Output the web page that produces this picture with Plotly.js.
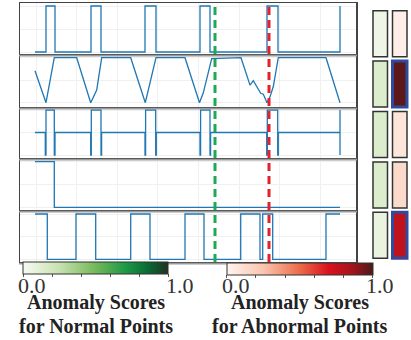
<!DOCTYPE html>
<html>
<head>
<meta charset="utf-8">
<script src="https://cdn.plot.ly/plotly-3.0.1.min.js"></script>
<style>html,body{margin:0;padding:0;background:#fff;}#chart{width:411px;height:340px;}</style>
</head>
<body>
<div id="chart"></div>
<script>
// ---------------- data ----------------
// time index of each series sample (x) and normalised value (y), one pair per panel
const p1x = [0,11,11,20,20,56,56,66,66,110,110,121,121,165,165,175,175,232,232,243,243,305,305];
const p1y = [0,0,1,1,0,0,1,1,0,0,1,1,0,0,1,1,0,0,1,1,0,0,1];

const p2x = [0,11,19.3,41.7,55.7,61.7,66.7,95.7,110.3,121,150,164.5,168.3,173.3,176.7,206,215,218.3,225.7,228.3,232,235,238.3,243.3,291,305];
const p2y = [0.71,0,1,1,0,0.28,1,1,0,1,1,0,0.22,0.69,0.98,1,0.39,0.49,0.21,0.19,0,0.13,0.36,1,1,0];

const p3x = [0,
  10.3,10.3,11,11,19.3,19.3,20,20,
  55.7,55.7,56.3,56.3,66,66,66.6,66.6,
  110,110,110.6,110.6,120.7,120.7,121.3,121.3,
  165,165,165.6,165.6,175,175,175.6,175.6,
  231.7,231.7,232.3,232.3,242.7,242.7,243.3,243.3,
  305,305,305];
const p3y = [0.5,
  0.5,0,0,1,1,0,0,0.5,
  0.5,0,0,1,1,0,0,0.5,
  0.5,0,0,1,1,0,0,0.5,
  0.5,0,0,1,1,0,0,0.5,
  0.5,0,0,1,1,0,0,0.5,
  0.5,1,0];

const p4x = [0,19.3,19.3,305];
const p4y = [1,1,0,0];

const p5x = [0,12.3,12.3,41,41,60.7,60.7,95.7,95.7,115,115,150,150,169,169,205.7,205.7,225,225,227.7,227.7,237.7,237.7,291,291,305];
const p5y = [1,1,0,0,1,1,0,0,1,1,0,0,1,1,0,0,1,1,0,0,1,1,0,0,1,1];

// marked time points
const normalPoint = 180;
const abnormalPoint = 234;

// anomaly scores per series (rows) for the two points
const normalScores   = [0.04, 0.14, 0.14, 0.14, 0.07];
const abnormalScores = [0.03, 0.97, 0.08, 0.14, 0.78];

// colour bar ticks and labels
const cbTickVals = [0, 0.2, 0.4, 0.6, 0.8, 1];
const cbEndLabels = ['0.0', '1.0'];

// ---------------- layout helpers (pixel geometry) ----------------
const W = 411, H = 340;
const fx = p => p / W;
const fy = p => 1 - p / H;

const seriesX = [p1x, p2x, p3x, p4x, p5x];
const seriesY = [p1y, p2y, p3y, p4y, p5y];
const panels = [
  {top: 3,     bot: 54,  v1: 6,     v0: 52},
  {top: 56,    bot: 107, v1: 57.7,  v0: 102.7},
  {top: 108.5, bot: 158, v1: 110,   v0: 155},
  {top: 160,   bot: 210, v1: 161.7, v0: 207.3},
  {top: 212,   bot: 262, v1: 214,   v0: 259.3}
];
const plotL = 20, plotR = 356;
const xRange = [-15, 321];

const greenScale = [[0,'#f7faf2'],[0.25,'#c7e2b0'],[0.5,'#74b85a'],[0.7,'#1f9b48'],[0.85,'#0a6e35'],[1,'#1e3322']];
const redScale   = [[0,'#fff4ef'],[0.25,'#f9c5ae'],[0.5,'#ec6a4a'],[0.7,'#d9101e'],[0.85,'#a8141c'],[1,'#4a1a1a']];

const traces = [];
const layout = {
  width: W, height: H,
  margin: {l: 0, r: 0, t: 0, b: 0, pad: 0},
  paper_bgcolor: '#ffffff', plot_bgcolor: '#ffffff',
  showlegend: false,
  font: {family: 'Liberation Serif', color: '#333'},
  shapes: [], annotations: []
};

for (let i = 0; i < 5; i++) {
  const n = i + 1;
  const sfx = n === 1 ? '' : String(n);
  traces.push({
    type: 'scatter', mode: 'lines',
    x: seriesX[i], y: seriesY[i],
    xaxis: 'x' + sfx, yaxis: 'y' + sfx,
    line: {color: '#1f77b4', width: 1.3},
    hoverinfo: 'skip'
  });
  const p = panels[i];
  const s = p.v0 - p.v1;
  layout['xaxis' + sfx] = {
    domain: [fx(plotL), fx(plotR)], range: xRange, anchor: 'y' + sfx,
    showgrid: true, gridcolor: '#f0f0f0', gridwidth: 1, tick0: 1, dtick: 40.6,
    showticklabels: false, ticks: '', zeroline: false,
    showline: true, mirror: true, linecolor: '#444', linewidth: 1.5
  };
  layout['yaxis' + sfx] = {
    domain: [fy(p.bot), fy(p.top)],
    range: [-(p.bot - p.v0) / s, 1 + (p.v1 - p.top) / s], anchor: 'x' + sfx,
    showgrid: true, gridcolor: '#f0f0f0', gridwidth: 1, tick0: 0, dtick: 0.5,
    showticklabels: false, ticks: '', zeroline: false,
    showline: true, mirror: true, linecolor: '#444', linewidth: 1.5
  };
  // grey shadow band under each panel
  layout.shapes.push({
    type: 'line', xref: 'paper', yref: 'paper',
    x0: fx(plotL - 1), x1: fx(plotR + 1), y0: fy(p.bot + 1.6), y1: fy(p.bot + 1.6),
    line: {color: '#9a9a9a', width: 1.6}
  });
}

// vertical dashed markers
layout.shapes.push({
  type: 'line', xref: 'x', yref: 'paper', x0: normalPoint, x1: normalPoint,
  y0: fy(262), y1: fy(4), line: {color: '#1fa957', width: 3, dash: '8px,5px'}
});
layout.shapes.push({
  type: 'line', xref: 'x', yref: 'paper', x0: abnormalPoint, x1: abnormalPoint,
  y0: fy(262), y1: fy(4), line: {color: '#e2222c', width: 3, dash: '8px,5px'}
});

// ---------------- score cells (heatmaps) ----------------
const cellL = 370.5, cellR = 409.5, cellT = 8.5, cellB = 260.5;
const xgap = 5, ygap = 4.4;
const rows = normalScores.map((_, k) => k);
layout.xaxis6 = {domain: [fx(cellL), fx(cellR)], range: [-0.5, 1.5], anchor: 'y6', visible: false, fixedrange: true};
layout.yaxis6 = {domain: [fy(cellB), fy(cellT)], range: [normalScores.length - 0.5, -0.5], anchor: 'x6', visible: false, fixedrange: true};

function cb(centerPx, topPx, lenPx) {
  return {
    orientation: 'h', lenmode: 'pixels', len: lenPx, thicknessmode: 'pixels', thickness: 12,
    x: fx(centerPx), xanchor: 'center', y: fy(topPx), yanchor: 'top',
    xpad: 0, ypad: 0, outlinewidth: 1, outlinecolor: '#333',
    tickmode: 'array', tickvals: cbTickVals, showticklabels: false,
    ticks: 'outside', ticklen: 3, tickwidth: 1, tickcolor: '#555'
  };
}

traces.push({
  type: 'heatmap', x: [0], y: rows, z: normalScores.map(v => [v]),
  xaxis: 'x6', yaxis: 'y6', zmin: 0, zmax: 1, colorscale: greenScale,
  xgap: xgap, ygap: ygap, hoverinfo: 'skip',
  colorbar: cb(95.5, 262.3, 145)
});
traces.push({
  type: 'heatmap', x: [1], y: rows, z: abnormalScores.map(v => [v]),
  xaxis: 'x6', yaxis: 'y6', zmin: 0, zmax: 1, colorscale: redScale,
  xgap: xgap, ygap: ygap, hoverinfo: 'skip',
  colorbar: cb(299.7, 263.3, 146)
});

// cell outlines
const gx = (xgap / 2) / ((cellR - cellL) / 2);
const gy = (ygap / 2) / ((cellB - cellT) / normalScores.length);
[normalScores, abnormalScores].forEach((arr, col) => {
  arr.forEach((v, r) => {
    const hi = col === 1 && v > 0.5;
    layout.shapes.push({
      type: 'rect', xref: 'x6', yref: 'y6',
      x0: col - 0.5 + gx, x1: col + 0.5 - gx,
      y0: r - 0.5 + gy, y1: r + 0.5 - gy,
      line: {color: hi ? '#2f4ba0' : '#333', width: hi ? 3 : 1.5}
    });
  });
});

// ---------------- colour bar labels & captions ----------------
function txt(text, cx, cy, size, bold, color) {
  layout.annotations.push({
    xref: 'paper', yref: 'paper', x: fx(cx), y: fy(cy), xanchor: 'center', yanchor: 'middle',
    showarrow: false, text: bold ? '<b>' + text + '</b>' : text,
    font: {family: 'Liberation Serif', size: size, color: color}
  });
}
// end labels of each colour bar (slightly right of the bar ends, as in the figure)
txt(cbEndLabels[0], 32, 285, 22, false, '#333');
txt(cbEndLabels[1], 179.5, 285, 22, false, '#333');
txt(cbEndLabels[0], 236, 285.5, 22, false, '#333');
txt(cbEndLabels[1], 380, 285.5, 22, false, '#333');

txt('Anomaly Scores', 95.5, 302, 20, true, '#222');
txt('for Normal Points', 95.5, 325.5, 20, true, '#222');
txt('Anomaly Scores', 299.5, 302, 20, true, '#222');
txt('for Abnormal Points', 299.5, 325.5, 20, true, '#222');

Plotly.newPlot('chart', traces, layout, {displayModeBar: false, staticPlot: true});
</script>
</body>
</html>
